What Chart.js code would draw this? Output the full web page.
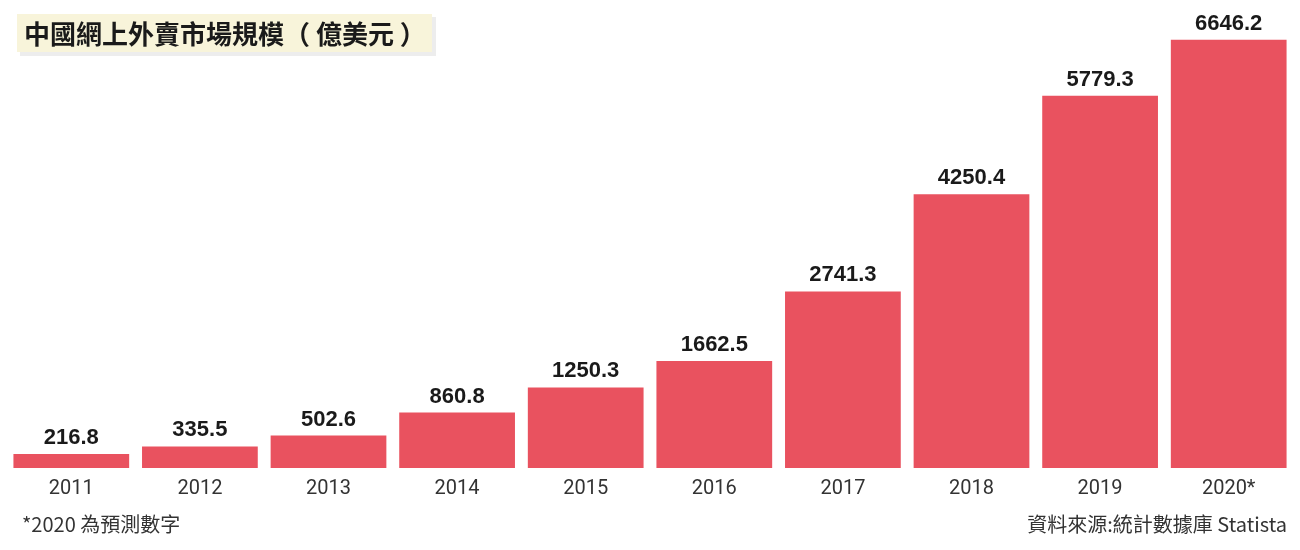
<!DOCTYPE html>
<html>
<head>
<meta charset="utf-8">
<script src="https://cdn.jsdelivr.net/npm/chart.js@4"></script>
<style>
html,body{margin:0;padding:0;background:#fff;}
#wrap{width:1300px;height:550px;}
</style>
</head>
<body>
<div id="wrap"><canvas id="c" width="1300" height="550"></canvas></div>
<script>
const categories = ["2011","2012","2013","2014","2015","2016","2017","2018","2019","2020*"];
const values = [216.8, 335.5, 502.6, 860.8, 1250.3, 1662.5, 2741.3, 4250.4, 5779.3, 6646.2];
const valueLabels = ["216.8","335.5","502.6","860.8","1250.3","1662.5","2741.3","4250.4","5779.3","6646.2"];
const titleText = "中國網上外賣市場規模（ 億美元 ）";
const noteLeft = "*2020 為預測數字";
const noteRight = "資料來源:統計數據庫 Statista";

const decor = {
  id: 'decor',
  beforeDraw(chart) {
    const ctx = chart.ctx;
    ctx.save();
    ctx.fillStyle = '#ffffff';
    ctx.fillRect(0, 0, chart.width, chart.height);
    ctx.fillStyle = 'rgba(0,0,0,0.07)';
    ctx.fillRect(20, 17, 416, 39);
    ctx.fillStyle = '#f8f4da';
    ctx.fillRect(17, 14, 415, 38);
    ctx.fillStyle = '#1a1a1a';
    ctx.font = 'bold 26px "Noto Sans CJK TC"';
    ctx.textBaseline = 'middle';
    ctx.textAlign = 'left';
    ctx.fillText(titleText, 24, 34);
    ctx.fillStyle = '#333333';
    ctx.font = '20px "Noto Sans CJK TC"';
    ctx.fillText(noteLeft, 22, 524);
    ctx.textAlign = 'right';
    ctx.fillText(noteRight, 1287, 524);
    ctx.restore();
  },
  afterDatasetsDraw(chart) {
    const ctx = chart.ctx;
    const meta = chart.getDatasetMeta(0);
    ctx.save();
    ctx.fillStyle = '#1a1a1a';
    ctx.font = 'bold 22px "Liberation Sans", Arial, sans-serif';
    ctx.textAlign = 'center';
    ctx.textBaseline = 'alphabetic';
    meta.data.forEach((bar, i) => {
      ctx.fillText(valueLabels[i], bar.x, bar.y - 10);
    });
    ctx.restore();
  }
};

new Chart(document.getElementById('c'), {
  type: 'bar',
  data: {
    labels: categories,
    datasets: [{
      data: values,
      backgroundColor: '#e9525f',
      borderWidth: 0,
      barPercentage: 0.9,
      categoryPercentage: 1.0
    }]
  },
  options: {
    responsive: false,
    animation: false,
    devicePixelRatio: 1,
    layout: { padding: { left: 7, right: 7, top: 17, bottom: 40 } },
    plugins: { legend: { display: false }, tooltip: { enabled: false }, title: { display: false } },
    scales: {
      x: {
        grid: { display: false, drawTicks: false },
        border: { display: false },
        ticks: { color: '#333333', font: { family: 'Roboto', size: 20 }, padding: 9 }
      },
      y: {
        display: false,
        min: 0,
        max: 7000
      }
    }
  },
  plugins: [decor]
});
</script>
</body>
</html>
